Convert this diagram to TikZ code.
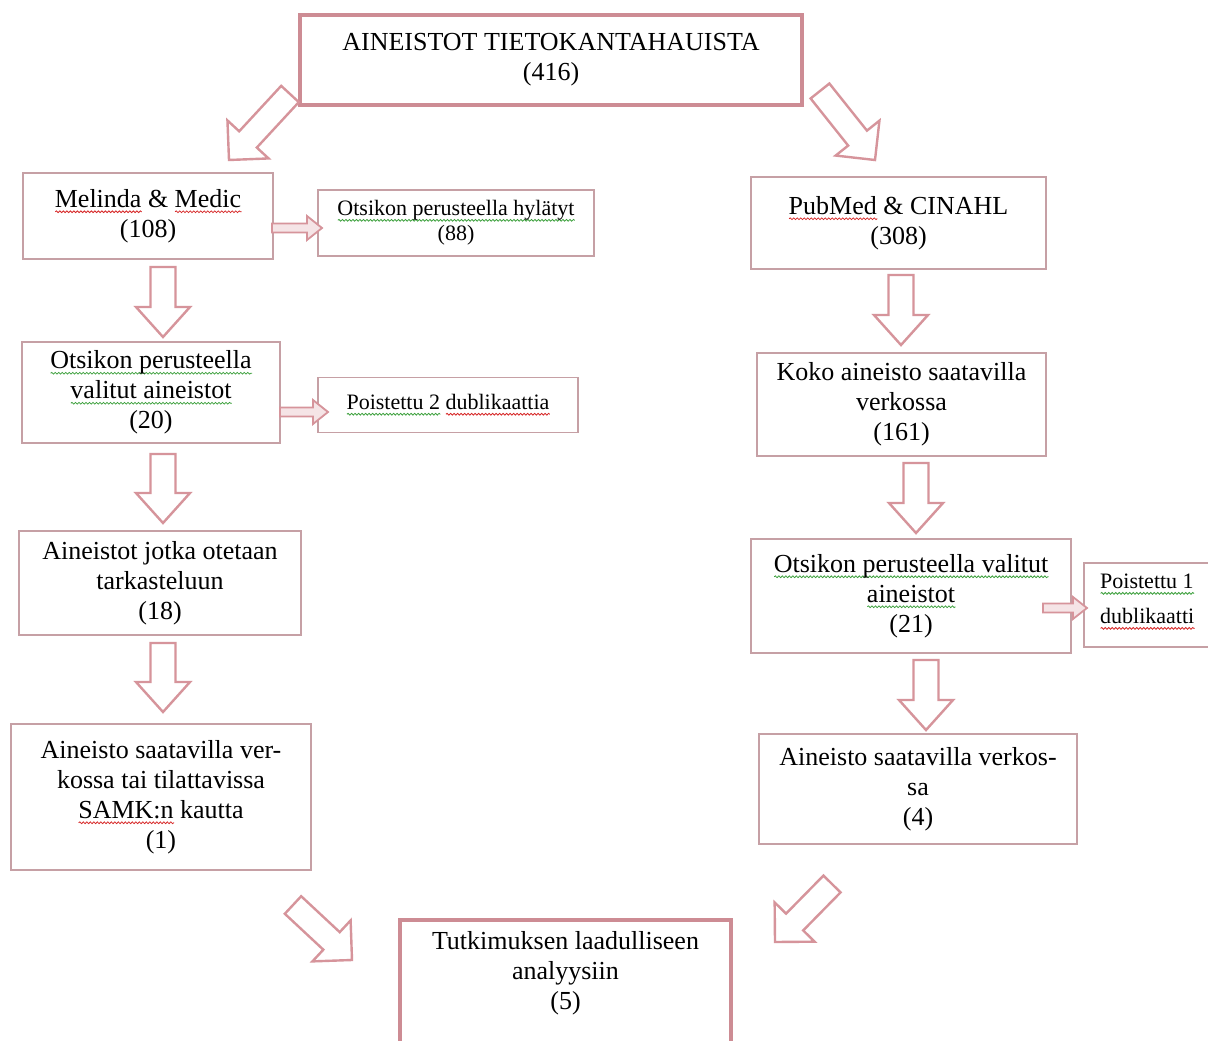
\documentclass[tikz,border=0pt]{standalone}
\usepackage{fontspec}
\setmainfont{Liberation Serif}
\usetikzlibrary{calc,decorations.pathmorphing}
\definecolor{boxline}{RGB}{198,160,165}
\definecolor{thickline}{RGB}{205,140,148}
\definecolor{arrowpink}{RGB}{214,148,155}
\definecolor{wgreen}{RGB}{60,160,60}
\definecolor{wred}{RGB}{215,40,40}
\newsavebox\wvbox
\newlength\wvw
\newcommand\wv[2]{\leavevmode\sbox\wvbox{#2}\setlength\wvw{\wd\wvbox}%
  \rlap{\tikz[baseline=0pt,x=1pt,y=1pt]\draw[#1,line width=0.8pt,fill=none,decorate,
    decoration={snake,amplitude=0.9pt,segment length=3.5pt}] (0,-4.5) -- (\wvw,-4.5);}%
  \usebox\wvbox}
\newcommand\gwave[1]{\wv{wgreen}{#1}}
\newcommand\rwave[1]{\wv{wred}{#1}}
% #1 tail, #2 tip, #3 shaft half-width, #4 head half-width, #5 head length
\newcommand\blockarrow[5]{%
  \draw[barrow] ($(#1)!#3!90:(#2)$) -- ($(#2)!#5!(#1)!#3!-90:(#1)$)
    -- ($(#2)!#5!(#1)!#4!-90:(#1)$) -- (#2)
    -- ($(#2)!#5!(#1)!#4!90:(#1)$) -- ($(#2)!#5!(#1)!#3!90:(#1)$)
    -- ($(#1)!#3!-90:(#2)$) -- cycle;}
\tikzset{
  thinbox/.style={draw=boxline, line width=1.3pt, fill=white, inner sep=0pt, align=center,
    font=\fontsize{26}{30}\selectfont},
  smallbox/.style={thinbox, font=\fontsize{22}{25}\selectfont},
  thickbox/.style={draw=thickline, line width=4pt, fill=white, inner sep=0pt, align=center,
    font=\fontsize{26}{30}\selectfont},
  txt/.style={inner sep=0pt, align=center, font=\fontsize{26}{30}\selectfont},
  barrow/.style={draw=arrowpink, line width=2.4pt, fill=white, line join=miter},
  sbarrow/.style={draw=arrowpink, line width=1.8pt, fill=arrowpink!25, line join=miter},
}
\begin{document}
\begin{tikzpicture}[x=1pt,y=-1pt]
\useasboundingbox (0,0) rectangle (1208,1041);
\fill[white] (0,0) rectangle (1208,1041);

% boxes
\node[thickbox, minimum width=502pt, minimum height=90pt] (top) at (551,60)
  {AINEISTOT TIETOKANTAHAUISTA\\(416)};
\node[thinbox, minimum width=250pt, minimum height=86pt] (melinda) at (148,216)
  {\rwave{Melinda} \& \rwave{Medic}\\(108)};
\node[smallbox, minimum width=276pt, minimum height=66pt] (hyl) at (456,223)
  {\gwave{Otsikon perusteella hylätyt}\\(88)};
\node[thinbox, minimum width=258pt, minimum height=101pt] (otsL) at (151,392.5)
  {\gwave{Otsikon perusteella}\\\gwave{valitut aineistot}\\(20)};
\node[smallbox, minimum width=260pt, minimum height=55pt] (poi2) at (448,405)
  {\gwave{Poistettu 2} \rwave{dublikaattia}};
\node[thinbox, minimum width=282pt, minimum height=104pt] (ainj) at (160,583)
  {Aineistot jotka otetaan\\tarkasteluun\\(18)};
\node[thinbox, minimum width=300pt, minimum height=146pt] (ainsL) at (161,797)
  {Aineisto saatavilla ver-\\kossa tai tilattavissa\\\rwave{SAMK:n} kautta\\(1)};

\node[thinbox, minimum width=295pt, minimum height=92pt] (pub) at (898.5,223)
  {\rwave{PubMed} \& CINAHL\\(308)};
\node[thinbox, minimum width=289pt, minimum height=103pt] (koko) at (901.5,404.5)
  {Koko aineisto saatavilla\\verkossa\\(161)};
\node[thinbox, minimum width=320pt, minimum height=114pt] (otsR) at (911,596)
  {\gwave{Otsikon perusteella valitut}\\\gwave{aineistot}\\(21)};
\node[thinbox, minimum width=140pt, minimum height=84pt] (poi1) at (1154,605) {};
\node[txt, align=left, anchor=west, font=\fontsize{22}{35}\selectfont] (poi1t) at (1100,602)
  {\gwave{Poistettu 1}\\\rwave{dublikaatti}};
\node[thinbox, minimum width=318pt, minimum height=110pt] (ainsR) at (918,789)
  {Aineisto saatavilla verkos-\\sa\\(4)};

\node[thickbox, minimum width=331pt, minimum height=134pt] (tut) at (565.5,987) {};
\node[txt] (tutt) at (565.5,973) {Tutkimuksen laadulliseen\\analyysiin\\(5)};

% arrow end points
\coordinate (d1a) at (290,94);   \coordinate (d1b) at (229,160);
\coordinate (d2a) at (820,91);   \coordinate (d2b) at (875,160);
\coordinate (a1a) at (163,267);  \coordinate (a1b) at (163,337);
\coordinate (a2a) at (163,454);  \coordinate (a2b) at (163,523);
\coordinate (a3a) at (163,643);  \coordinate (a3b) at (163,712);
\coordinate (b1a) at (901,275);  \coordinate (b1b) at (901,345);
\coordinate (b2a) at (916,463);  \coordinate (b2b) at (916,533);
\coordinate (b3a) at (926,660);  \coordinate (b3b) at (926,730);
\coordinate (h1a) at (272,228);  \coordinate (h1b) at (322,228);
\coordinate (h2a) at (280,412);  \coordinate (h2b) at (328,412);
\coordinate (h3a) at (1043,608); \coordinate (h3b) at (1087,608);
\coordinate (d3a) at (293,905);  \coordinate (d3b) at (352,960);
\coordinate (d4a) at (832,884);  \coordinate (d4b) at (775,942);

\blockarrow{d1a}{d1b}{12pt}{28pt}{28pt}
\blockarrow{d2a}{d2b}{12pt}{28pt}{28pt}
\blockarrow{a1a}{a1b}{12.5pt}{27pt}{30pt}
\blockarrow{a2a}{a2b}{12.5pt}{27pt}{30pt}
\blockarrow{a3a}{a3b}{12.5pt}{27pt}{30pt}
\blockarrow{b1a}{b1b}{12.5pt}{27pt}{30pt}
\blockarrow{b2a}{b2b}{12.5pt}{27pt}{30pt}
\blockarrow{b3a}{b3b}{12.5pt}{27pt}{30pt}
\blockarrow{d3a}{d3b}{12pt}{28pt}{28pt}
\blockarrow{d4a}{d4b}{12pt}{28pt}{28pt}
\begin{scope}[barrow/.style=sbarrow]
\blockarrow{h1a}{h1b}{4.5pt}{12pt}{15pt}
\blockarrow{h2a}{h2b}{4.5pt}{12pt}{15pt}
\blockarrow{h3a}{h3b}{4.5pt}{11pt}{14pt}
\end{scope}
\end{tikzpicture}
\end{document}
